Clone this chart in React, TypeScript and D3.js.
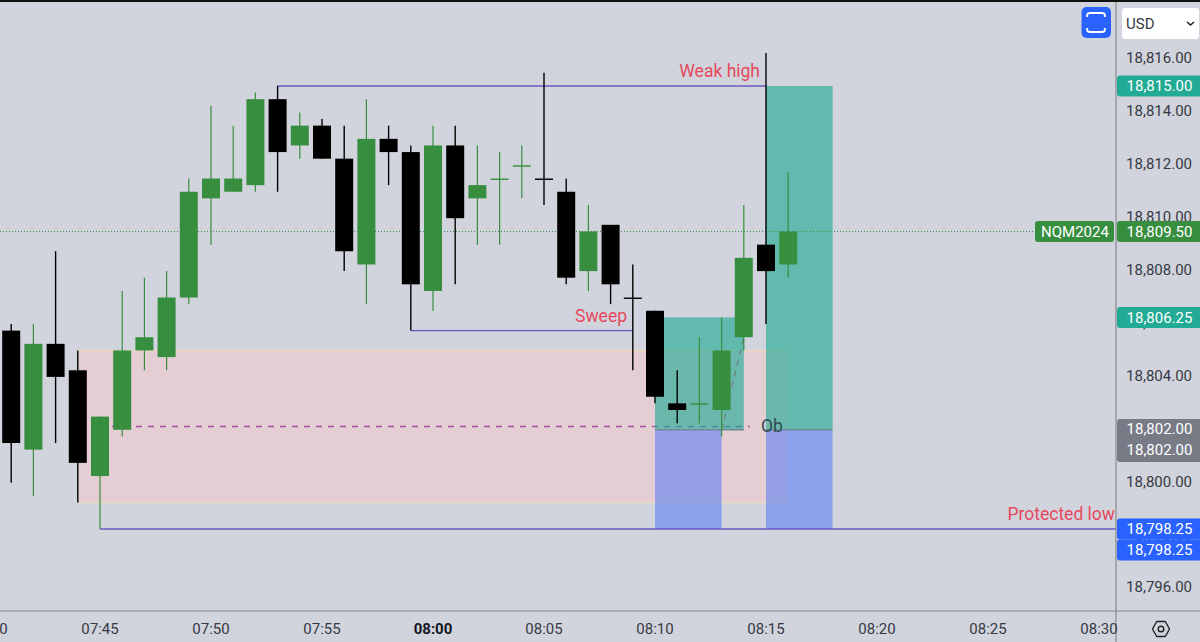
import React from "react";
import * as d3 from "d3";

const width = 1200;
const height = 642;
const axisX = 1116;
const axisY = 611;

// candles, one per minute starting 07:41
const startMinute = 7 * 60 + 41;
const opens = [18805.75, 18801.25, 18805.25, 18804.25, 18800.25, 18802, 18805, 18804.75, 18807, 18810.75, 18811, 18811.25, 18814.5, 18812.75, 18813.5, 18812.25, 18808.25, 18813, 18812.5, 18807.25, 18812.75, 18810.75, 18811.5, 18812, 18811.5, 18811, 18808, 18809.75, 18807, 18806.5, 18803, 18803, 18802.75, 18805.5, 18809, 18808.25];
const highs = [18806, 18806, 18808.75, 18805, 18802.5, 18807.25, 18807.75, 18808, 18811.5, 18814.25, 18813.5, 18814.75, 18815, 18814, 18813.75, 18813.5, 18814.5, 18813.5, 18812.75, 18813.5, 18813.5, 18812.75, 18812.5, 18812.75, 18815.5, 18811.5, 18810.5, 18809.75, 18808.25, 18806.5, 18804.25, 18805.5, 18806.25, 18810.5, 18816.25, 18811.75];
const lows = [18800, 18799.5, 18801.5, 18799.25, 18798.25, 18801.75, 18804.25, 18804.25, 18806.75, 18809, 18811, 18811, 18811, 18812.25, 18812.25, 18808, 18806.75, 18811.25, 18805.75, 18806.5, 18807.5, 18809, 18809, 18810.75, 18810.5, 18807.5, 18807.25, 18806.75, 18804.25, 18803, 18802.25, 18802.25, 18801.75, 18805, 18806, 18807.75];
const closes = [18801.5, 18805.25, 18804, 18800.75, 18802.5, 18805, 18805.5, 18807, 18811, 18811.5, 18811.5, 18814.5, 18812.5, 18813.5, 18812.25, 18808.75, 18813, 18812.5, 18807.5, 18812.75, 18810, 18811.25, 18811.5, 18812, 18811.5, 18807.75, 18809.5, 18807.5, 18807, 18803.25, 18802.75, 18803, 18805, 18808.5, 18808, 18809.5];

const priceTicks = [18816, 18814, 18812, 18810, 18808, 18806, 18804, 18802, 18800, 18798, 18796];
const timeTicks = ["07:40", "07:45", "07:50", "07:55", "08:00", "08:05", "08:10", "08:15", "08:20", "08:25", "08:30"];
const blackDojis = ["08:05", "08:09"];

const priceTags = [
  { price: 18815, label: "18,815.00", color: "#22ab94" },
  { price: 18809.5, label: "18,809.50", color: "#378e3f" },
  { price: 18806.25, label: "18,806.25", color: "#22ab94" },
];

const toMinute = (s: string) => {
  const [h, m] = s.split(":").map(Number);
  return h * 60 + m;
};

const x = d3.scaleLinear().domain([toMinute("07:45"), toMinute("08:30")]).range([100, 1099]);
const y = d3.scaleLinear().domain([18816, 18796]).range([59.5, 588.5]);
const fmt = d3.format(",.2f");

const font = "Roboto, sans-serif";
const bg = "#d1d4dc";
const up = "#378e3f";
const down = "#000000";
const purple = "#6b57c4";
const red = "#e5495e";
const teal = "rgba(34,171,148,0.63)";
const blue = "rgba(41,98,255,0.43)";
const axisText = "#363a45";

const Position = ({ from, to, stopTo, top, entry, bottom }: any) => (
  <g>
    <rect x={x(toMinute(from))} width={x(toMinute(stopTo)) - x(toMinute(from))} y={y(top)} height={y(entry) - y(top)} fill={teal} />
    <rect x={x(toMinute(from))} width={x(toMinute(to)) - x(toMinute(from))} y={y(entry)} height={y(bottom) - y(entry)} fill={blue} />
    <line x1={x(toMinute(from))} x2={x(toMinute(stopTo))} y1={y(entry)} y2={y(entry)} stroke="#6f8a96" strokeWidth={1.5} />
  </g>
);

const Tag = ({ yc, label, color, h = 21 }: any) => (
  <g>
    <rect x={axisX + 1} y={yc - h / 2} width={width - axisX + 6} height={h} rx={3} fill={color} />
    <text x={1159.5} y={yc} dy="0.36em" textAnchor="middle" fontSize={15} fill="#ffffff" fontFamily={font}>
      {label}
    </text>
  </g>
);

export default function App() {
  const bodyWidth = 18;
  const candles = opens.map((o, i) => ({ t: startMinute + i, o, h: highs[i], l: lows[i], c: closes[i] }));
  const isBlackDoji = (t: number) => blackDojis.some((s) => toMinute(s) === t);
  return (
    <svg width={width} height={height} style={{ position: "fixed", left: 0, top: 0, background: bg }}>
      <rect x={0} y={0} width={width} height={2} fill="#111" />

      {/* order block zone */}
      <rect x={x(toMinute("07:44"))} width={x(toMinute("08:16")) - x(toMinute("07:44"))} y={y(18805)} height={y(18799.25) - y(18805)} fill="rgba(255,200,200,0.43)" />
      <line x1={x(toMinute("07:44"))} x2={x(toMinute("08:16"))} y1={y(18805)} y2={y(18805)} stroke="#f3dcb4" />
      <line x1={x(toMinute("07:44"))} x2={x(toMinute("08:16"))} y1={y(18799.25)} y2={y(18799.25)} stroke="#f3dcb4" />
      <line x1={x(toMinute("08:16"))} x2={x(toMinute("08:16"))} y1={y(18805)} y2={y(18799.25)} stroke="#d8cfd6" />
      <line x1={x(toMinute("07:45"))} x2={x(toMinute("08:15")) - 16} y1={y(18802.125)} y2={y(18802.125)} stroke="#a94fb0" strokeWidth={1.5} strokeDasharray="6 6" />

      <Position from="08:10" to="08:13" stopTo="08:14" top={18806.25} entry={18802} bottom={18798.25} />
      <Position from="08:15" to="08:18" stopTo="08:18" top={18815} entry={18802} bottom={18798.25} />

      {/* last price line */}
      <line x1={0} x2={1035} y1={y(18809.5)} y2={y(18809.5)} stroke={up} strokeWidth={1} strokeDasharray="1 2" />

      {/* structure lines */}
      <line x1={x(toMinute("07:53"))} x2={x(toMinute("08:15"))} y1={y(18815)} y2={y(18815)} stroke={purple} strokeWidth={1.4} />
      <line x1={x(toMinute("07:59"))} x2={x(toMinute("08:09"))} y1={y(18805.75)} y2={y(18805.75)} stroke={purple} strokeWidth={1.4} />
      <line x1={x(toMinute("07:45"))} x2={axisX} y1={y(18798.25)} y2={y(18798.25)} stroke={purple} strokeWidth={1.4} />
      <line x1={x(toMinute("08:13"))} x2={x(toMinute("08:14"))} y1={y(18802)} y2={y(18805.5)} stroke="#6f7f80" strokeWidth={1.2} strokeDasharray="6 5" />

      {candles.map((d) => {
        const color = d.c >= d.o && !isBlackDoji(d.t) ? up : down;
        const cx = x(d.t);
        const top = y(Math.max(d.o, d.c));
        const bottom = y(Math.min(d.o, d.c));
        return (
          <g key={d.t}>
            <line x1={cx} x2={cx} y1={y(d.h)} y2={y(d.l)} stroke={color} strokeWidth={color === up ? 1.2 : 1.4} />
            <rect x={cx - bodyWidth / 2} width={bodyWidth} y={top} height={Math.max(bottom - top, 1.4)} fill={color} />
          </g>
        );
      })}

      {/* drawing labels */}
      <g fontFamily={font} fontSize={17.5}>
        <text x={760} y={77} textAnchor="end" fill={red}>Weak high</text>
        <text x={627} y={322} textAnchor="end" fill={red}>Sweep</text>
        <text x={1115} y={520} textAnchor="end" fill={red}>Protected low</text>
        <text x={761} y={432} fill="#2f4a52">Ob</text>
      </g>

      {/* price axis */}
      <line x1={axisX} x2={axisX} y1={2} y2={height} stroke="#85888f" strokeWidth={1.2} />
      {priceTicks.map((p) => (
        <text key={p} x={1192} y={y(p) - 1.5} dy="0.36em" textAnchor="end" fontSize={15} fill={axisText} fontFamily={font}>
          {fmt(p)}
        </text>
      ))}
      {priceTags.map((t) => (
        <Tag key={t.label} yc={y(t.price)} label={t.label} color={t.color} />
      ))}
      <rect x={1035} y={y(18809.5) - 10.5} width={79} height={21} rx={3} fill={up} />
      <text x={1075} y={y(18809.5)} dy="0.36em" textAnchor="middle" fontSize={15} fill="#fff" fontFamily={font}>NQM2024</text>

      <rect x={axisX + 1} y={419} width={90} height={43} rx={3} fill="#787b86" />
      <text x={1159.5} y={y(18802) - 1} dy="0.36em" textAnchor="middle" fontSize={15} fill="#fff" fontFamily={font}>{fmt(18802)}</text>
      <text x={1159.5} y={450} dy="0.36em" textAnchor="middle" fontSize={15} fill="#fff" fontFamily={font}>{fmt(18802)}</text>
      <Tag yc={y(18798.25)} label={fmt(18798.25)} color="#2962ff" />
      <Tag yc={550} label={fmt(18798.25)} color="#2962ff" />

      {/* time axis */}
      <line x1={0} x2={width} y1={axisY} y2={axisY} stroke="#85888f" strokeWidth={1.2} />
      {timeTicks.map((t) => (
        <text key={t} x={x(toMinute(t))} y={628.5} dy="0.36em" textAnchor="middle" fontSize={15} fill={t === "08:00" ? "#131722" : axisText} fontWeight={t === "08:00" ? 700 : 400} fontFamily={font}>
          {t}
        </text>
      ))}

      {/* fullscreen button */}
      <rect x={1081.5} y={7} width={29.5} height={31} rx={5} fill="#2962ff" />
      <path d="M1087 17v-1a3 3 0 0 1 3-3h12a3 3 0 0 1 3 3v1 M1087 28v1a3 3 0 0 0 3 3h12a3 3 0 0 0 3-3v-1" fill="none" stroke="#fff" strokeWidth={1.8} />

      {/* currency select */}
      <rect x={1122} y={8} width={77} height={31} rx={3} fill="#fff" />
      <text x={1126} y={23.5} dy="0.36em" fontSize={15} fill={axisText} fontFamily={font}>USD</text>
      <path d="M1187 22l3.5 3l3.5-3" fill="none" stroke="#222" strokeWidth={1.6} />

      {/* settings icon */}
      <path d="M1152.5 629l4.2-7.5h8.6l4.2 7.5l-4.2 7.5h-8.6z" fill="none" stroke="#222" strokeWidth={1.4} strokeLinejoin="round" />
      <circle cx={1161} cy={629} r={2.8} fill="none" stroke="#222" strokeWidth={1.4} />
    </svg>
  );
}
